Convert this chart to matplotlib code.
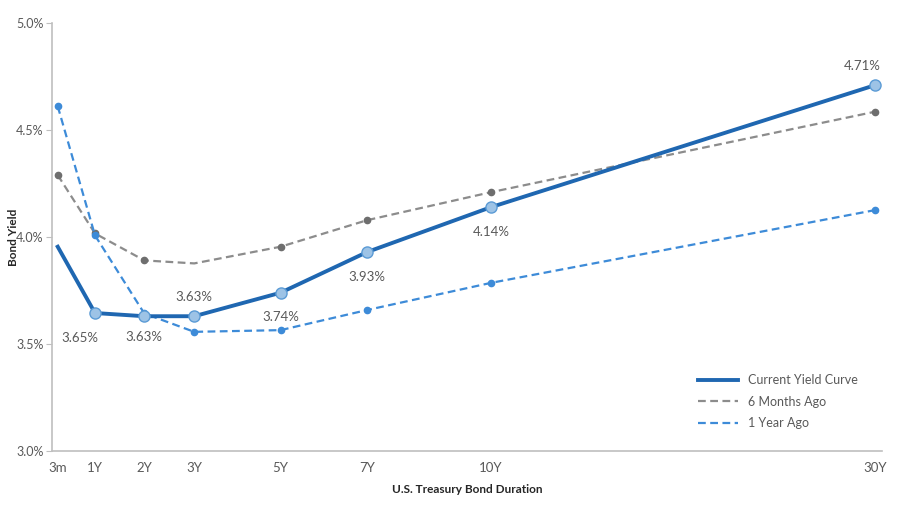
import matplotlib
matplotlib.use("Agg")
import matplotlib.pyplot as plt
from matplotlib.ticker import FuncFormatter

plt.rcParams['font.family'] = ['Lato', 'DejaVu Sans']

tenors = ["3m", "1Y", "2Y", "3Y", "5Y", "7Y", "10Y", "30Y"]
x_pos = [0, 0.746, 1.732, 2.732, 4.46, 6.19, 8.67, 16.35]
current = [3.955, 3.645, 3.63, 3.63, 3.74, 3.93, 4.14, 4.71]
six_months = [4.29, 4.017, 3.891, 3.877, 3.955, 4.079, 4.21, 4.586]
one_year = [4.612, 4.008, 3.643, 3.557, 3.565, 3.659, 3.786, 4.126]
labels_current = ["", "3.65%", "3.63%", "3.63%", "3.74%", "3.93%", "4.14%", "4.71%"]

fig = plt.figure(figsize=(9, 5.05), dpi=100)
ax = fig.add_axes([0.0578, 0.107, 0.922, 0.847])

dark_blue = "#1F67B1"
light_blue = "#3D8BD8"
gray = "#8C8C8C"

ax.plot(x_pos, six_months, color=gray, lw=1.6, ls=(0, (3.5, 2)), marker="o",
        markersize=4.5, markerfacecolor="#6E6E6E", markeredgecolor="#6E6E6E",
        markevery=[0, 1, 2, 4, 5, 6, 7],
        label="6 Months Ago", zorder=2)
ax.plot(x_pos, one_year, color=light_blue, lw=1.6, ls=(0, (3.5, 2)), marker="o",
        markersize=4.5, markerfacecolor=light_blue, markeredgecolor=light_blue,
        label="1 Year Ago", zorder=3)
ax.plot(x_pos, current, color=dark_blue, lw=2.8, label="Current Yield Curve", zorder=4)
ax.plot(x_pos[1:], current[1:], ls="none", marker="o", markersize=8,
        markerfacecolor="#9DC3E6", markeredgecolor="#5B9BD5", markeredgewidth=1, zorder=5)

offsets = {1: (-0.3, -0.115), 2: (0, -0.095), 3: (0, 0.09), 4: (0, -0.115),
           5: (0, -0.115), 6: (0, -0.115), 7: (-0.25, 0.09)}
for i, lab in enumerate(labels_current):
    if not lab:
        continue
    dx, dy = offsets[i]
    ax.text(x_pos[i] + dx, current[i] + dy, lab, ha="center", va="center",
            fontsize=9.5, color="#595959")

ax.set_xlim(-0.114, 16.49)
ax.set_ylim(3.0, 5.0)
ax.set_yticks([3.0, 3.5, 4.0, 4.5, 5.0])
ax.yaxis.set_major_formatter(FuncFormatter(lambda v, p: f"{v:.1f}%"))
ax.set_xticks(x_pos)
ax.set_xticklabels(tenors)

for s in ["top", "right"]:
    ax.spines[s].set_visible(False)
for s in ["left", "bottom"]:
    ax.spines[s].set_color("#BFBFBF")
    ax.spines[s].set_linewidth(1.2)

ax.tick_params(axis="y", colors="#BFBFBF", labelcolor="#595959", labelsize=9, length=4, pad=2)
ax.tick_params(axis="x", length=0, labelcolor="#595959", labelsize=9.5, pad=8)

ax.set_xlabel("U.S. Treasury Bond Duration", fontsize=8.5, fontweight="bold", color="#262626", labelpad=7)
ax.set_ylabel("Bond Yield", fontsize=8.5, fontweight="bold", color="#262626",
              va="center", ha="center")
ax.yaxis.set_label_coords(-0.047, 0.5)

handles, labels = ax.get_legend_handles_labels()
order = [2, 0, 1]
leg = ax.legend([handles[i] for i in order], [labels[i] for i in order],
                loc="lower right", bbox_to_anchor=(0.985, 0.025), frameon=False,
                fontsize=9, handlelength=3.2, labelcolor="#595959", labelspacing=0.75)
for h in leg.legend_handles:
    h.set_marker("")

fig.savefig("out.png", dpi=100)
